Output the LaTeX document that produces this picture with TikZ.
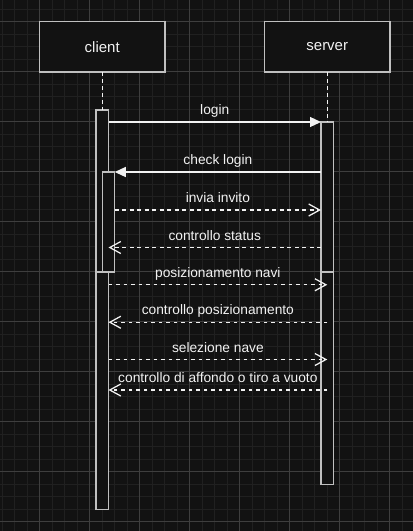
\documentclass[tikz,border=0pt]{standalone}
\usepackage{fontspec}
\setmainfont{Liberation Sans}
\usetikzlibrary{arrows.meta}

\definecolor{canvas}{RGB}{18,18,18}
\definecolor{minorline}{RGB}{32,32,32}
\definecolor{majorline}{RGB}{62,62,62}
\definecolor{edge}{RGB}{192,192,192}
\definecolor{ink}{RGB}{242,242,242}

\begin{document}
\begin{tikzpicture}[
    x = 1pt,
    y = -1pt,
    line width = 1.25pt,
    head/.style = {
      draw = edge,
      fill = canvas,
      rectangle,
      inner sep = 0pt,
      outer sep = 0pt,
      minimum width = 125.5pt,
      minimum height = 50.5pt,
      text = ink,
      font = \fontsize{15}{18}\selectfont
    },
    bar/.style = {
      draw = edge,
      fill = canvas,
      rectangle,
      anchor = north,
      inner sep = 0pt,
      outer sep = 0pt,
      minimum width = 12.5pt
    },
    life/.style = {draw = ink, line width = 1pt, dash pattern = on 3.5pt off 3.5pt},
    call/.style = {draw = ink, -{Triangle[length=11pt, width=10pt]}},
    reply/.style = {draw = ink, dash pattern = on 3.75pt off 3.75pt,
      -{Straight Barb[length=11pt, width=12pt, line width=1.25pt]}},
    lbl/.style = {
      midway,
      anchor = base,
      yshift = 7.5pt,
      inner sep = 0pt,
      text = ink,
      font = \fontsize{13.75}{16}\selectfont
    }
  ]
  \useasboundingbox (0,0) rectangle (413,531);

  % background grid
  \fill[canvas] (0,0) rectangle (413,531);
  \foreach \i in {0,...,32}
    \draw[minorline, line width = 1pt] ({2+12.5*\i},0) -- ++(0,531);
  \foreach \i in {0,...,41}
    \draw[minorline, line width = 1pt] (0,{9+12.5*\i}) -- ++(413,0);
  \foreach \i in {0,...,7}
    \draw[majorline, line width = 1pt] ({39.5+50*\i},0) -- ++(0,531);
  \foreach \i in {0,...,10}
    \draw[majorline, line width = 1pt] (0,{21.5+50*\i}) -- ++(413,0);

  \node[head] (client) at (102.25,46.75) {client};
  \node[head] (server) at (327.25,46.75) {server};

  \node[bar, minimum height = 399.5pt] (cA) at (102.25,110) {};
  \node[bar, minimum height = 362.5pt] (sA) at (327.25,122) {};
  \node[bar, minimum height = 100pt] (cB) at (108.5,172) {};
  \node[bar, minimum height = 237.5pt] (cC) at (102.25,272) {};
  \node[bar, minimum height = 212.5pt] (sB) at (327.25,272) {};

  \draw[life] (client.south) -- (cA.north);
  \draw[life] (server.south) -- (sA.north);

  \draw[call] (cA.east |- 0,122) -- (sA.west |- 0,122) node[lbl] {login};
  \draw[call] (sA.west |- 0,172) -- (cB.east |- 0,172) node[lbl] {check login};

  \draw[reply] (cB.east |- 0,210) -- (sA.west |- 0,210) node[lbl] {invia invito};
  \draw[reply] (sA.west |- 0,247.5) -- (cA.east |- 0,247.5) node[lbl] {controllo status};
  \draw[reply] (cC.east |- 0,284.75) -- (sB |- 0,284.75) node[lbl] {posizionamento navi};
  \draw[reply] (sB |- 0,322.25) -- (cC.east |- 0,322.25) node[lbl] {controllo posizionamento};
  \draw[reply] (cC.east |- 0,359.5) -- (sB |- 0,359.5) node[lbl] {selezione nave};
  \draw[reply] (sB |- 0,390) -- (cC.east |- 0,390) node[lbl] {controllo di affondo o tiro a vuoto};

\end{tikzpicture}
\end{document}
